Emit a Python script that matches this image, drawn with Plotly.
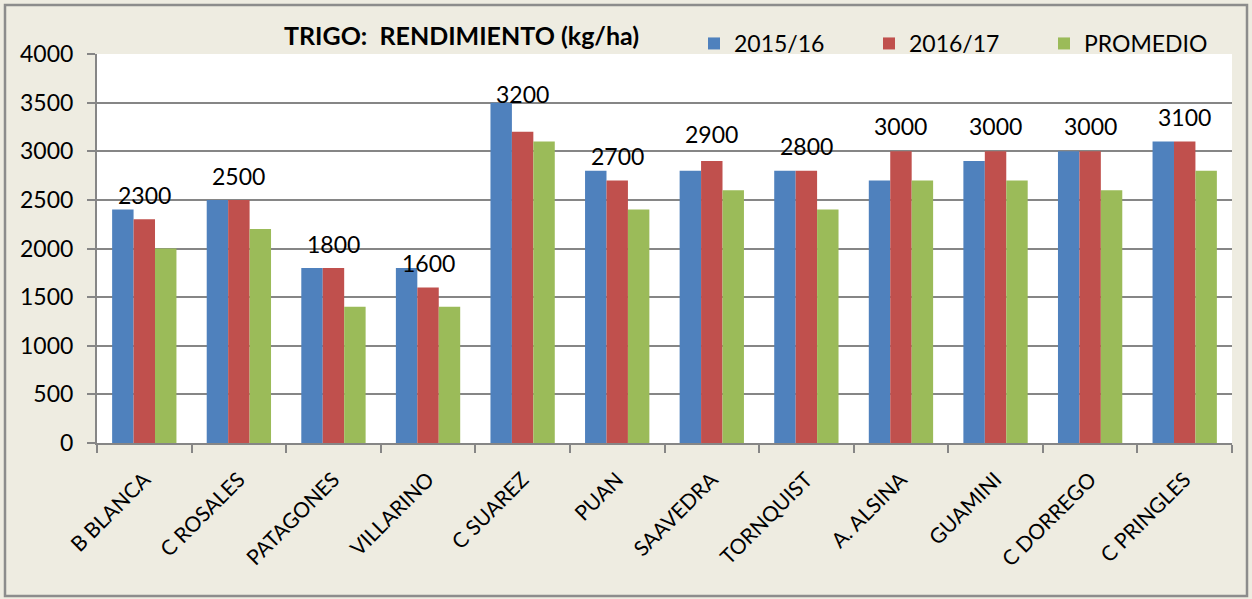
import plotly.graph_objects as go

categories = ["B BLANCA", "C ROSALES", "PATAGONES", "VILLARINO", "C SUAREZ", "PUAN",
              "SAAVEDRA", "TORNQUIST", "A. ALSINA", "GUAMINI", "C DORREGO", "C PRINGLES"]
s2015 = [2400, 2500, 1800, 1800, 3500, 2800, 2800, 2800, 2700, 2900, 3000, 3100]
s2016 = [2300, 2500, 1800, 1600, 3200, 2700, 2900, 2800, 3000, 3000, 3000, 3100]
promedio = [2000, 2200, 1400, 1400, 3100, 2400, 2600, 2400, 2700, 2700, 2600, 2800]
label_shift = [24, 24, 24, 24, 38, 24, 27, 25, 25, 25, 25, 25]

FONT = "Lato"
GRAY = "#868686"

fig = go.Figure()
fig.add_bar(x=categories, y=s2015, name="2015/16", marker=dict(color="#4F81BD", line=dict(width=0)))
fig.add_bar(x=categories, y=s2016, name="2016/17", marker=dict(color="#C0504D", line=dict(width=0)))
fig.add_bar(x=categories, y=promedio, name="PROMEDIO", marker=dict(color="#9BBB59", line=dict(width=0)))

for c, v, sh in zip(categories, s2016, label_shift):
    fig.add_annotation(x=c, y=v, text=str(v), showarrow=False, yshift=sh,
                       font=dict(family=FONT, size=23, color="black"))

fig.add_annotation(xref="paper", yref="paper", x=(461 - 97) / 1135, y=(443 - 35) / 389,
                   xanchor="center", yanchor="middle",
                   text="<b>TRIGO:  RENDIMIENTO (kg/ha)</b>", showarrow=False,
                   font=dict(family=FONT, size=25, color="black"))

fig.add_shape(type="rect", xref="paper", yref="paper",
              x0=(5 - 97) / 1135, x1=(1247 - 97) / 1135,
              y0=(443 - 596) / 389, y1=(443 - 5) / 389,
              line=dict(color="#8c8c8c", width=2.5), layer="below")

fig.update_layout(
    width=1252, height=599,
    margin=dict(l=97, r=20, t=54, b=156, autoexpand=False),
    paper_bgcolor="#EEECE1", plot_bgcolor="white",
    barmode="group", bargap=0.32, bargroupgap=0,
    font=dict(family=FONT, size=20, color="black"),
    legend=dict(orientation="h", x=(694 - 97) / 1135, y=(443 - 22) / 389,
                xanchor="left", yanchor="top", bgcolor="rgba(0,0,0,0)",
                font=dict(family=FONT, size=23), entrywidth=130, entrywidthmode="pixels",
                traceorder="normal"),
    xaxis=dict(type="category", tickangle=-45, ticks="outside", tickson="boundaries",
               ticklen=8, tickcolor=GRAY, tickwidth=2, showline=True, linecolor=GRAY,
               linewidth=2, tickfont=dict(family=FONT, size=21), showgrid=False,
               ticklabelstandoff=14, automargin=False),
    yaxis=dict(range=[0, 4000], dtick=500, ticks="outside", ticklen=8, tickcolor=GRAY,
               tickwidth=2, showline=True, linecolor=GRAY, linewidth=2,
               gridcolor=GRAY, gridwidth=1.5, tickfont=dict(family=FONT, size=23),
               ticklabelstandoff=9, zeroline=False, automargin=False),
)

fig.write_html("out.html", post_script="document.body.style.margin='0';",
               config={"displayModeBar": False})
